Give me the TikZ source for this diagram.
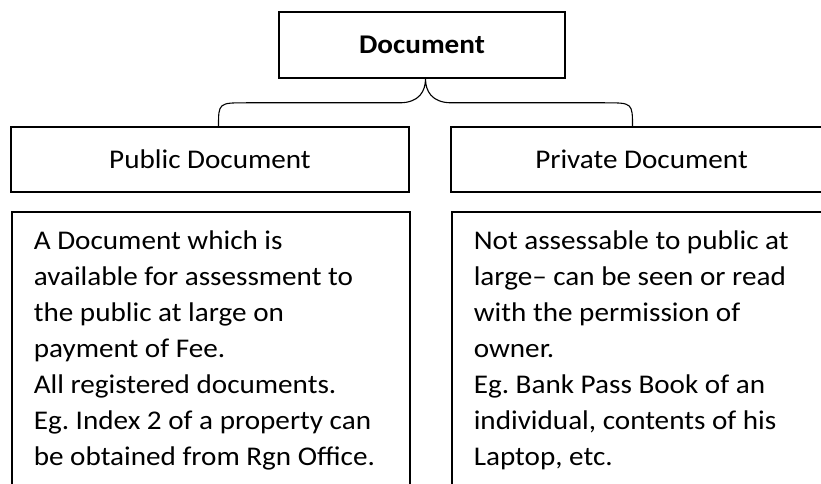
\documentclass[tikz,border=0pt]{standalone}
\usepackage{fontspec}
\setmainfont[FakeStretch=1.08]{Carlito}
\usetikzlibrary{calc}
\usetikzlibrary{positioning}

\begin{document}
\frenchspacing
\begin{tikzpicture}[x=1pt, y=-1pt,
		box/.style={rectangle, draw, line width=1.6pt, inner sep=0pt, font=\fontsize{27}{36}\selectfont},
		textbox/.style={box, anchor=north west, inner xsep=22pt, inner ysep=19pt},
		brace/.style={line width=1.1pt}]
				\useasboundingbox (0,0) rectangle (821,484);
				\clip (0,0) rectangle (821,484);
				
				\node[box, minimum width=286pt, minimum height=66pt] (doc) at (422,45) {\textbf{Document}};
				\node[box, minimum width=398pt, minimum height=65pt] (pub) at (210,159.5) {Public Document};
				\node[box, minimum width=381pt, minimum height=65pt] (priv) at (641.5,159.5) {Private Document};
				
				\node[textbox] (pubtext) at (11,211) {\parbox[t][300pt][t]{354pt}{\raggedright
						A Document which is\\
						available for assessment to\\
						the public at large on\\
						payment of Fee.\\
						All registered documents.\\
						Eg. Index 2 of a property can\\
						be obtained from Rgn Office.}};
				\node[textbox] (privtext) at (451,211) {\parbox[t][300pt][t]{337pt}{\raggedright
						Not assessable to public at\\
						large-- can be seen or read\\
						with the permission of\\
						owner.\\
						Eg. Bank Pass Book of an\\
						individual, contents of his\\
						Laptop, etc.}};
				
				% brace from the top box down to both kinds
				\coordinate (tip) at ($(doc.south)+(3.5,0)$);
				\coordinate (bl) at ($(tip)+(-207,48)$);
				\coordinate (br) at ($(tip)+(207,48)$);
				\draw[brace] (bl) .. controls ($(bl)+(0,-24)$) .. ($(bl)+(28,-24)$)
					-- ($(tip)+(-26,24)$) .. controls ($(tip)+(-6,24)$) and ($(tip)+(0,12)$) .. (tip)
					.. controls ($(tip)+(0,12)$) and ($(tip)+(6,24)$) .. ($(tip)+(26,24)$)
					-- ($(br)+(-28,-24)$) .. controls ($(br)+(0,-24)$) .. (br);
			\end{tikzpicture}
\end{document}
